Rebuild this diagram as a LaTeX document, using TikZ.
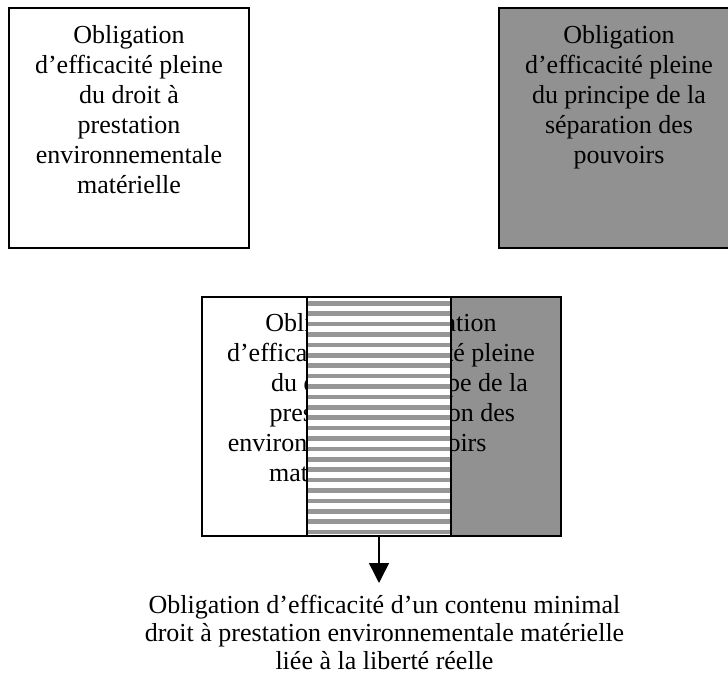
\documentclass[tikz,border=0pt]{standalone}
\usepackage{fontspec}
\setmainfont{Liberation Serif}
\usetikzlibrary{arrows.meta}
\definecolor{boxgray}{RGB}{145,145,145}
\definecolor{stripegray}{RGB}{150,150,150}
\begin{document}
\begin{tikzpicture}[x=0.5pt,y=-0.5pt,
  box/.style={draw=black,line width=1pt,inner sep=0pt,outer sep=0pt,anchor=north west},
  plain/.style={inner sep=0pt,outer sep=0pt,anchor=north west},
  txt/.style={align=center,font=\fontsize{13}{15}\selectfont,inner sep=0pt,anchor=north},
  restxt/.style={align=center,font=\fontsize{13}{14}\selectfont,inner sep=0pt,anchor=north},
]
\useasboundingbox (0,0) rectangle (728,684);
\clip (0,0) rectangle (728,684);
% top boxes
\node[box,fill=white,minimum width=120pt,minimum height=120pt] (tl) at (9,8) {};
\node[box,fill=boxgray,minimum width=120pt,minimum height=120pt] (tr) at (499,8) {};
\node[txt] (tltext) at (129,25.2) {Obligation\\d’efficacité pleine\\du droit à\\prestation\\environnementale\\matérielle};
\node[txt] (trtext) at (619,25.2) {Obligation\\d’efficacité pleine\\du principe de la\\séparation des\\pouvoirs};
% middle composite
\node[plain,fill=white,minimum width=124.5pt,minimum height=119.5pt] (mw) at (202,297) {};
\node[plain,fill=boxgray,minimum width=55pt,minimum height=119.5pt] (mg) at (451,297) {};
\node[txt] (mwtext) at (321,313.2) {Obligation\\d’efficacité pleine\\du droit à\\prestation\\environnementale\\matérielle};
\node[txt] (mgtext) at (441,313.2) {Obligation\\d’efficacité pleine\\du principe de la\\séparation des\\pouvoirs};
\node[plain,fill=white,minimum width=72pt,minimum height=119.5pt] (ms) at (307,297) {};
\foreach \k in {0,...,22} {
  \fill[stripegray] (307,301+10.4*\k) rectangle (451,305.5+10.4*\k);
}
\draw[line width=1pt] (mw.north west) rectangle (mg.south east);
\draw[line width=1pt] (ms.north west) -- (ms.south west);
\draw[line width=1pt] (mg.north west) -- (mg.south west);
% arrow and result
\coordinate (tip) at (379,583);
\draw[line width=0.75pt,-{Triangle[width=10pt,length=10pt]}] (tip |- mw.south) -- (tip);
\node[restxt] (res) at (384.5,595.2) {Obligation d’efficacité d’un contenu minimal\\droit à prestation environnementale matérielle\\liée à la liberté réelle};
\end{tikzpicture}
\end{document}
